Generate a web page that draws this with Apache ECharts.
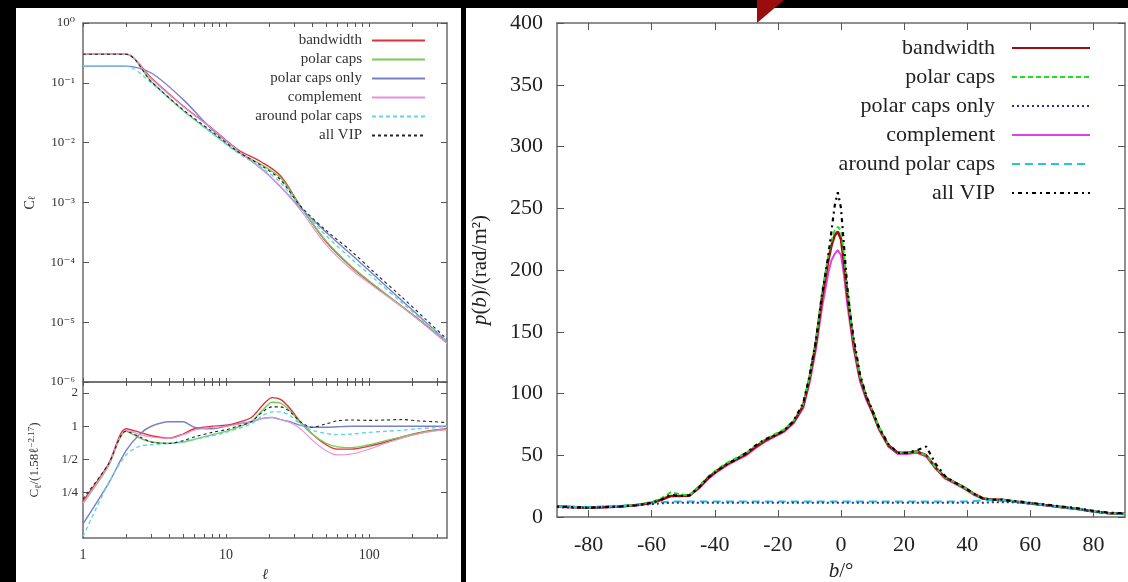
<!DOCTYPE html>
<html>
<head>
<meta charset="utf-8">
<script src="https://cdn.jsdelivr.net/npm/echarts@6/dist/echarts.min.js"></script>
<style>
  html, body { margin: 0; padding: 0; background: #000; width: 1128px; height: 582px; overflow: hidden; }
  #left { position: absolute; left: 16px; top: 8px; width: 445px; height: 574px; background: #fff; }
  #right { position: absolute; left: 466px; top: 0; width: 662px; height: 582px;
           background: linear-gradient(#000 0, #000 8px, #fff 8px); }
</style>
</head>
<body>
<div id="left"></div>
<div id="right"></div>
<script>
var names = ['bandwidth', 'polar caps', 'polar caps only', 'complement', 'around polar caps', 'all VIP'];

// left panel, top: C_l against l
var lTop = [1, 2, 3, 5, 8, 12, 18, 24, 33, 50, 75, 110, 170, 250, 350];
var clBandwidth  = [0.30, 0.30, 0.120, 0.0409, 0.0173, 0.00777, 0.00462, 0.0028, 0.00088, 0.000221, 8.4e-5, 4.0e-5, 1.82e-5, 8.9e-6, 4.5e-6];
var clPolarCaps  = [0.30, 0.30, 0.105, 0.0346, 0.0145, 0.00705, 0.00417, 0.00259, 0.000864, 0.000228, 8.6e-5, 4.1e-5, 1.82e-5, 8.7e-6, 4.5e-6];
var clPolarOnly  = [0.19, 0.19, 0.146, 0.0529, 0.0164, 0.00755, 0.00352, 0.00184, 0.000816, 0.000319, 0.000135, 5.9e-5, 2.28e-5, 9.9e-6, 4.8e-6];
var clComplement = [0.30, 0.30, 0.117, 0.0404, 0.0170, 0.00748, 0.00352, 0.00184, 0.00076, 0.000195, 7.6e-5, 3.8e-5, 1.78e-5, 8.6e-6, 4.4e-6];
var clAround     = [0.19, 0.19, 0.0993, 0.0346, 0.0142, 0.00683, 0.00373, 0.00216, 0.00084, 0.00028, 0.000115, 5.2e-5, 2.1e-5, 9.5e-6, 4.8e-6];
var clAllVip     = [0.30, 0.30, 0.105, 0.0356, 0.0152, 0.00719, 0.00402, 0.0024, 0.00088, 0.000341, 0.000154, 6.6e-5, 2.6e-5, 1.1e-5, 5.2e-6];

// left panel, bottom: C_l / (1.58 l^-2.17)
var lBottom = [1, 1.5, 2, 2.5, 3, 4, 5, 6, 8, 10, 12, 15, 18, 21, 24, 28, 33, 40, 50, 60, 75, 100, 130, 170, 220, 280, 350];
var rBandwidth  = [0.21, 0.45, 0.95, 0.88, 0.82, 0.78, 0.85, 0.95, 1.0, 1.02, 1.08, 1.2, 1.55, 1.82, 1.75, 1.45, 1.1, 0.85, 0.68, 0.62, 0.62, 0.66, 0.72, 0.8, 0.87, 0.92, 0.95];
var rPolarCaps  = [0.2, 0.43, 0.9, 0.78, 0.72, 0.7, 0.72, 0.76, 0.84, 0.9, 0.98, 1.1, 1.4, 1.65, 1.62, 1.38, 1.08, 0.85, 0.7, 0.65, 0.64, 0.68, 0.74, 0.8, 0.86, 0.91, 0.94];
var rPolarOnly  = [0.13, 0.3, 0.6, 0.85, 1.0, 1.1, 1.1, 0.98, 0.95, 1.0, 1.05, 1.1, 1.18, 1.2, 1.15, 1.1, 1.02, 0.98, 0.98, 0.99, 1.0, 1.0, 1.0, 1.0, 1.0, 1.0, 1.0];
var rComplement = [0.2, 0.44, 0.92, 0.84, 0.8, 0.78, 0.84, 0.92, 0.98, 1.0, 1.04, 1.1, 1.18, 1.2, 1.15, 1.08, 0.95, 0.75, 0.6, 0.55, 0.56, 0.62, 0.7, 0.78, 0.85, 0.9, 0.93];
var rAround     = [0.1, 0.3, 0.55, 0.66, 0.68, 0.7, 0.72, 0.76, 0.82, 0.88, 0.95, 1.05, 1.25, 1.35, 1.35, 1.25, 1.05, 0.92, 0.86, 0.84, 0.85, 0.88, 0.9, 0.92, 0.95, 0.97, 1.0];
var rAllVip     = [0.22, 0.45, 0.9, 0.8, 0.72, 0.7, 0.74, 0.8, 0.88, 0.93, 1.0, 1.1, 1.35, 1.5, 1.5, 1.35, 1.1, 0.98, 1.05, 1.12, 1.14, 1.13, 1.14, 1.15, 1.12, 1.1, 1.08];

var lMinorTicks = [1, 2, 3, 4, 5, 6, 7, 8, 9, 10, 20, 30, 40, 50, 60, 70, 80, 90, 100, 200, 300];
var lLabels = [1, 10, 100];
var ratioTicks = [0.25, 0.5, 1, 2];

// right panel: p(b) against b
var bVals = [-90, -85, -80, -75, -70, -65, -60, -57, -54, -51, -48, -45, -42, -39, -36, -33, -30, -27, -24, -21, -18, -15, -12,
  -10, -8, -6, -4, -3, -2, -1, 0, 1, 2, 3, 4, 6, 8, 10, 12, 15, 18, 21, 24, 27, 30, 33, 36, 39, 42, 45, 48, 51, 54, 57,
  60, 65, 70, 75, 80, 85, 90];
var pBandwidth = [8.5, 8, 7.5, 8, 8.5, 9.5, 11.5, 14, 17, 17, 17.5, 24, 32, 38, 43, 47, 51, 57, 62, 66, 70, 77, 90,
  112, 140, 178, 208, 220, 228, 231, 225, 205, 180, 160, 140, 113, 97, 85, 72, 58, 52, 52, 53, 50, 40, 32, 28, 24, 19, 15, 14, 14, 13, 12,
  11, 9.5, 8, 6.5, 4.5, 3, 2.5];
var pPolarCaps = [8.5, 8, 7.5, 8, 8.5, 10, 12, 15, 20, 18.5, 17.5, 25, 33, 39, 44, 48, 52, 58, 63, 67, 71, 78, 91,
  113, 142, 182, 212, 224, 232, 235, 232, 212, 184, 162, 141, 114, 98, 86, 73, 58, 52, 52, 53, 50, 40, 32, 28, 24, 19, 15, 14, 14, 13, 12,
  11, 9.5, 8, 6.5, 4.5, 3, 2.5];
var pPolarOnly = [8, 7.5, 7.5, 8, 8.5, 9.5, 10.5, 11, 11.5, 11.5, 11.5, 11.5, 11.5, 11.5, 11.5, 11.5, 11.5, 11.5, 11.5, 11.5, 11.5, 11.5, 11.5,
  11.5, 11.5, 11.5, 11.5, 11.5, 11.5, 11.5, 11.5, 11.5, 11.5, 11.5, 11.5, 11.5, 11.5, 11.5, 11.5, 11.5, 11.5, 11.5, 11.5, 11.5, 11.5, 11.5, 11.5, 11.5, 11.5, 11.5, 12, 12, 12, 11.5,
  11, 9.5, 8, 6.5, 4.5, 3, 2.5];
var pComplement = [8.5, 8, 7.5, 8, 8.5, 9.5, 11.5, 14, 17, 17, 17.5, 23, 31, 37, 42, 46, 50, 56, 61, 65, 69, 76, 88,
  108, 135, 170, 198, 208, 213, 216, 212, 195, 172, 154, 136, 110, 95, 84, 71, 57, 51, 51, 52, 49, 39, 31, 27, 23, 18, 15, 14, 14, 13, 12,
  11, 9.5, 8, 6.5, 4.5, 3, 2.5];
var pAround = [8.5, 8, 8, 8.5, 9, 10, 11, 12, 12.5, 12.5, 12.5, 12.5, 12.5, 12.5, 12.5, 12.5, 12.5, 12.5, 12.5, 12.5, 12.5, 12.5, 12.5,
  12.5, 12.5, 12.5, 12.5, 12.5, 12.5, 12.5, 12.5, 12.5, 12.5, 12.5, 12.5, 12.5, 12.5, 12.5, 12.5, 12.5, 12.5, 12.5, 12.5, 12.5, 12.5, 12.5, 12.5, 12.5, 13, 13.5, 13.5, 13, 12.5, 12,
  11, 9.5, 8, 6.5, 4.5, 3, 2.5];
var pAllVip = [8.5, 8, 7.5, 8, 8.5, 9.5, 11.5, 14, 18, 17, 17.5, 24, 32, 38, 43, 47, 52, 58, 63, 66, 70, 78, 92,
  114, 142, 180, 212, 232, 252, 263, 250, 218, 186, 163, 145, 116, 98, 86, 73, 59, 52, 52, 54, 57, 43, 33, 28, 24, 19, 15, 14, 14, 13, 12.5,
  11.5, 10, 8.5, 7, 5, 3.5, 3];
var bLabels = [-80, -60, -40, -20, 0, 20, 40, 60, 80];

var serif = '"Liberation Serif", "DejaVu Serif", serif';
var frame = { show: true, onZero: false, lineStyle: { color: '#6b6b6b', width: 1.5 } };

function pairs(xs, ys) {
  return xs.map(function (x, i) { return [x, ys[i]]; });
}

function sup(n) {
  var m = { '-': '\u207b', '0': '\u2070', '1': '\u00b9', '2': '\u00b2', '3': '\u00b3', '4': '\u2074', '5': '\u2075', '6': '\u2076' };
  return String(n).split('').map(function (c) { return m[c]; }).join('');
}

// ---------- left chart ----------
function lAxis(grid, pos, labels) {
  var ax = {
    type: 'log', logBase: 10, gridIndex: grid, position: pos, min: 1, max: 350,
    axisLine: frame, splitLine: { show: false },
    axisTick: { show: true, inside: true, length: 4, customValues: lMinorTicks, lineStyle: { color: '#555' } },
    axisLabel: { show: false }
  };
  if (labels) {
    ax.axisLabel = { show: true, customValues: lLabels, fontFamily: serif, fontSize: 14, color: '#333', margin: 10 };
    ax.name = 'ℓ';
    ax.nameLocation = 'middle';
    ax.nameGap = 30;
    ax.nameTextStyle = { fontFamily: serif, fontSize: 15, fontStyle: 'italic', color: '#333' };
  }
  return ax;
}

function clAxis(pos, labels) {
  var ax = {
    type: 'log', logBase: 10, gridIndex: 0, position: pos, min: 1e-6, max: 1,
    axisLine: frame, splitLine: { show: false },
    axisTick: { show: true, inside: true, length: 6, lineStyle: { color: '#555' } },
    axisLabel: { show: false }
  };
  if (labels) {
    ax.axisLabel = {
      show: true, fontFamily: serif, fontSize: 13, color: '#333', margin: 8,
      formatter: function (v) {
        var e = Math.round(Math.log10(v));
        if (Math.abs(Math.log10(v) - e) > 0.01) return '';
        return '10' + sup(e);
      }
    };
    ax.name = 'C{sub|ℓ}';
    ax.nameLocation = 'middle';
    ax.nameRotate = 90;
    ax.nameGap = 46;
    ax.nameMoveOverlap = false;
    ax.nameTextStyle = { fontFamily: serif, fontSize: 14, color: '#333',
      rich: { sub: { fontFamily: serif, fontSize: 10, color: '#333', verticalAlign: 'bottom' } } };
  }
  return ax;
}

function ratioAxis(pos, labels) {
  var ax = {
    type: 'log', logBase: 2, gridIndex: 1, position: pos, min: 0.097, max: 2.52,
    axisLine: frame, splitLine: { show: false },
    axisTick: { show: true, inside: true, length: 6, customValues: ratioTicks, lineStyle: { color: '#555' } },
    axisLabel: { show: false }
  };
  if (labels) {
    ax.axisLabel = {
      show: true, customValues: ratioTicks, fontFamily: serif, fontSize: 13, color: '#333', margin: 5,
      formatter: function (v) {
        var e = Math.round(Math.log2(v));
        if (Math.abs(Math.log2(v) - e) > 0.01) return '';
        return { '1': '2', '0': '1', '-1': '1/2', '-2': '1/4' }[String(e)] || '';
      }
    };
    ax.name = 'C{sub|ℓ}/(1.58ℓ{sup|−2.17})';
    ax.nameLocation = 'middle';
    ax.nameRotate = 90;
    ax.nameGap = 40;
    ax.nameMoveOverlap = false;
    ax.nameTextStyle = { fontFamily: serif, fontSize: 13, color: '#333', lineHeight: 16,
      rich: {
        sub: { fontFamily: serif, fontSize: 9, color: '#333', verticalAlign: 'bottom' },
        sup: { fontFamily: serif, fontSize: 9, color: '#333', verticalAlign: 'top' }
      } };
  }
  return ax;
}

var leftStyles = [
  { color: '#e0303a', width: 1.4, type: 'solid' },
  { color: '#78cc55', width: 1.4, type: 'solid' },
  { color: '#7a80c8', width: 1.4, type: 'solid' },
  { color: '#e890d8', width: 1.1, type: 'solid' },
  { color: '#5fd6e6', width: 1.4, type: [4, 3] },
  { color: '#222222', width: 1.1, type: [3, 3] }
];
var topData = [clBandwidth, clPolarCaps, clPolarOnly, clComplement, clAround, clAllVip];
var bottomData = [rBandwidth, rPolarCaps, rPolarOnly, rComplement, rAround, rAllVip];

var leftSeries = [];
names.forEach(function (n, i) {
  leftSeries.push({
    name: n, type: 'line', xAxisIndex: 0, yAxisIndex: 0, data: pairs(lTop, topData[i]),
    symbol: 'none', smooth: 0.3, lineStyle: leftStyles[i], itemStyle: { color: leftStyles[i].color }
  });
});
names.forEach(function (n, i) {
  leftSeries.push({
    name: n, type: 'line', xAxisIndex: 2, yAxisIndex: 2, data: pairs(lBottom, bottomData[i]),
    symbol: 'none', smooth: 0.3, lineStyle: leftStyles[i], itemStyle: { color: leftStyles[i].color }
  });
});

var leftChart = echarts.init(document.getElementById('left'));
leftChart.setOption({
  animation: false,
  grid: [
    { left: 67, top: 15, width: 364, height: 359, containLabel: false, outerBoundsMode: 'none' },
    { left: 67, top: 374, width: 364, height: 156, containLabel: false, outerBoundsMode: 'none' }
  ],
  xAxis: [lAxis(0, 'bottom', false), lAxis(0, 'top', false), lAxis(1, 'bottom', true), lAxis(1, 'top', false)],
  yAxis: [clAxis('left', true), clAxis('right', false), ratioAxis('left', true), ratioAxis('right', false)],
  legend: {
    data: names, orient: 'vertical', align: 'right', right: 30, top: 20,
    itemWidth: 53, itemHeight: 12, itemGap: 4, selectedMode: false,
    itemStyle: { opacity: 0 },
    textStyle: { fontFamily: serif, fontSize: 15, color: '#333', lineHeight: 14, padding: [0, 5, 0, 0] }
  },
  series: leftSeries
});

// ---------- right chart ----------
function bAxis(pos, labels) {
  var ax = {
    type: 'value', position: pos, min: -90, max: 90,
    axisLine: frame, splitLine: { show: false },
    axisTick: { show: true, inside: true, length: 7, customValues: bLabels, lineStyle: { color: '#555' } },
    axisLabel: { show: false }
  };
  if (labels) {
    ax.axisLabel = { show: true, customValues: bLabels, fontFamily: serif, fontSize: 22, color: '#222', margin: 17 };
    ax.name = '{i|b}/°';
    ax.nameLocation = 'middle';
    ax.nameGap = 44;
    ax.nameMoveOverlap = false;
    ax.nameTextStyle = { fontFamily: serif, fontSize: 21, color: '#222',
      rich: { i: { fontFamily: serif, fontSize: 21, color: '#222', fontStyle: 'italic' } } };
  }
  return ax;
}

function pAxis(pos, labels) {
  var ax = {
    type: 'value', position: pos, min: 0, max: 400, interval: 50,
    axisLine: frame, splitLine: { show: false },
    axisTick: { show: true, inside: true, length: 7, lineStyle: { color: '#555' } },
    axisLabel: { show: false }
  };
  if (labels) {
    ax.axisLabel = { show: true, fontFamily: serif, fontSize: 22, color: '#222', margin: 14 };
    ax.name = '{i|p}({i|b})/(rad/m²)';
    ax.nameLocation = 'middle';
    ax.nameRotate = 90;
    ax.nameGap = 66;
    ax.nameMoveOverlap = false;
    ax.nameTextStyle = { fontFamily: serif, fontSize: 21, color: '#222',
      rich: { i: { fontFamily: serif, fontSize: 21, color: '#222', fontStyle: 'italic' } } };
  }
  return ax;
}

var rightStyles = [
  { color: '#a00a0a', width: 2.6, type: 'solid' },
  { color: '#22dd22', width: 2, type: [5, 3] },
  { color: '#2a2aa8', width: 2, type: [2, 3] },
  { color: '#e040e0', width: 2, type: 'solid' },
  { color: '#20c8d8', width: 2, type: [8, 5] },
  { color: '#000000', width: 2.2, type: [2, 4, 4, 4] }
];
var rightData = [pBandwidth, pPolarCaps, pPolarOnly, pComplement, pAround, pAllVip];
var drawOrder = [3, 0, 1, 4, 2, 5];

var rightSeries = drawOrder.map(function (i) {
  return {
    name: names[i], type: 'line', data: pairs(bVals, rightData[i]),
    symbol: 'none', lineStyle: rightStyles[i], itemStyle: { color: rightStyles[i].color }, z: 2 + drawOrder.indexOf(i)
  };
});

var rightChart = echarts.init(document.getElementById('right'));
rightChart.setOption({
  animation: false,
  grid: { left: 91, top: 23, width: 568, height: 494, containLabel: false, outerBoundsMode: 'none' },
  xAxis: [bAxis('bottom', true), bAxis('top', false)],
  yAxis: [pAxis('left', true), pAxis('right', false)],
  legend: {
    data: names, orient: 'vertical', align: 'right', right: 32, top: 31,
    itemWidth: 78, itemHeight: 14, itemGap: 5, selectedMode: false,
    itemStyle: { opacity: 0 },
    textStyle: { fontFamily: serif, fontSize: 22, color: '#222', lineHeight: 24, padding: [0, 12, 0, 0] }
  },
  graphic: [
    { type: 'polygon', shape: { points: [[291, 0], [318, 0], [291, 23]] }, style: { fill: '#9b0d0d' }, z: 100 }
  ],
  series: rightSeries
});
</script>
</body>
</html>
